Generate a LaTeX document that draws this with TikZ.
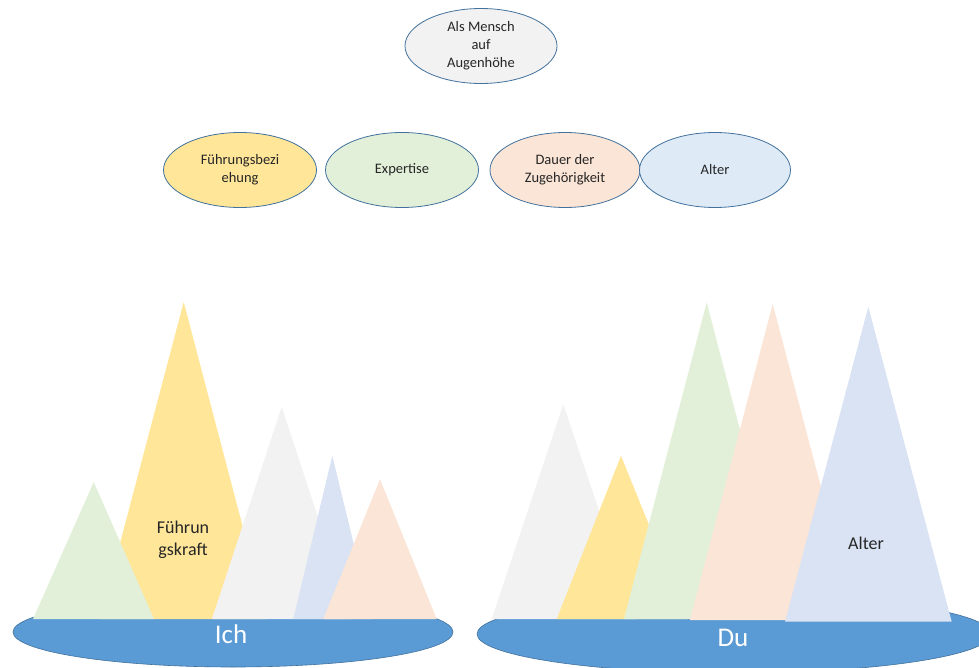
\documentclass[tikz,border=0pt]{standalone}
\usepackage{fontspec}
\setmainfont{Carlito}
\usetikzlibrary{shapes.geometric}
\definecolor{bordblue}{HTML}{41719C}
\definecolor{baseblue}{HTML}{5B9BD5}
\definecolor{cgreen}{HTML}{E2F0D9}
\definecolor{cyellow}{HTML}{FFE699}
\definecolor{cgray}{HTML}{F2F2F2}
\definecolor{cblue}{HTML}{DAE3F3}
\definecolor{cpeach}{HTML}{FBE5D6}
\definecolor{cltblue}{HTML}{DEEBF7}
\tikzset{
  topoval/.style={ellipse, draw=bordblue, line width=0.8pt, minimum width=152pt, minimum height=75pt, inner sep=0pt, align=center, font=\fontsize{14.5}{18}\selectfont, text=black!85},
  baseoval/.style={ellipse, fill=baseblue, draw=bordblue, line width=0.6pt, inner sep=0pt},
  bigwhite/.style={text=white, font=\fontsize{27}{30}\selectfont},
  mlabel/.style={font=\fontsize{18}{22}\selectfont, align=center, text=black!85}
}
\begin{document}
\begin{tikzpicture}[x=1pt,y=-1pt]
\useasboundingbox (0,0) rectangle (979,668);
% top ovals
\node[topoval, fill=cgray] (mensch) at (481,46) {Als Mensch\\auf\\Augenhöhe};
\node[topoval, fill=cyellow, minimum width=153pt] (fb) at (240,170) {Führungsbezi\\ehung};
\node[topoval, fill=cgreen, minimum width=153pt] (exp) at (402,170) {Expertise};
\node[topoval, fill=cpeach, minimum width=150pt] (dauer) at (565,170) {Dauer der\\Zugehörigkeit};
\node[topoval, fill=cltblue, minimum width=151pt] (alter) at (715,170) {Alter};
% Ich base
\node[baseoval, minimum width=440pt, minimum height=70pt] (ich) at (233,632) {};
% Ich mountains
\fill[cyellow] (100,619) -- (183.7,302) -- (267,619) -- cycle;
\fill[cgreen] (33,619) -- (93.7,482) -- (154,619) -- cycle;
\fill[cgray] (212,619) -- (281.7,406.7) -- (351.4,619) -- cycle;
\fill[cblue] (293.3,619) -- (332.3,455.7) -- (372,619) -- cycle;
\fill[cpeach] (323.3,619) -- (380,479.3) -- (436.7,619) -- cycle;
\node[mlabel] (fk) at (183,540) {Führun\\gskraft};
\node[bigwhite] (ichl) at (231,634) {Ich};
% Du base
\node[baseoval, minimum width=514pt, minimum height=78pt] (du) at (734,634) {};
% Du mountains
\fill[cgray] (491.7,619) -- (563.3,404.3) -- (635.6,619) -- cycle;
\fill[cyellow] (556.7,619) -- (621,455.7) -- (687,619) -- cycle;
\fill[cgreen] (624,619) -- (706.7,302.3) -- (789.3,619) -- cycle;
\fill[cpeach] (690,620) -- (772.7,304) -- (856,620) -- cycle;
\fill[cblue] (785,621.7) -- (868.3,306.7) -- (951.7,621.7) -- cycle;
\node[mlabel] (al) at (866,543) {Alter};
\node[bigwhite] (dul) at (733,638) {Du};
\end{tikzpicture}
\end{document}
